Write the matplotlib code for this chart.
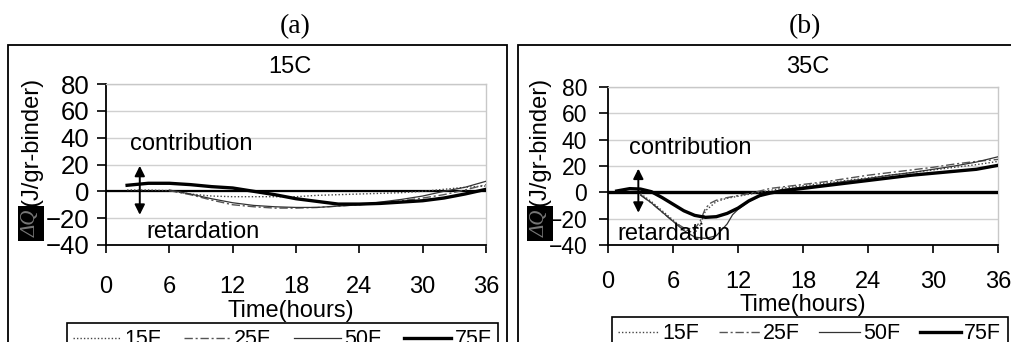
import matplotlib
matplotlib.use('Agg')
import matplotlib.pyplot as plt
from matplotlib.patches import Rectangle

plt.rcParams['font.family'] = ['Liberation Sans', 'DejaVu Sans']

# ---------------- data ----------------
series_names = ['15F', '25F', '50F', '75F']
xticks = [0, 6, 12, 18, 24, 30, 36]
yticks = [-40, -20, 0, 20, 40, 60, 80]

# (a) 15C
a_15F_t = [2, 4, 6, 8, 10, 12, 14, 16, 18, 20, 22, 24, 26, 28, 30, 32, 34, 36]
a_15F_v = [1, 1, 0.5, -2, -3.5, -4, -4, -4, -4, -3, -2.5, -2, -1.5, -1, 0, 1.5, 3, 4]
a_25F_t = [6, 8, 10, 12, 14, 16, 18, 20, 22, 24, 26, 28, 30, 32, 34, 36]
a_25F_v = [0.5, -2.5, -6.5, -10, -11.5, -12.5, -12.5, -12, -11, -10, -9, -7, -5, -2.5, 1, 5]
a_50F_t = [6, 8, 10, 12, 14, 16, 18, 20, 22, 24, 26, 28, 30, 32, 34, 36]
a_50F_v = [1, -2, -5.5, -8.5, -10.5, -11.5, -12, -12, -11, -10, -8, -6, -3.5, 0, 3, 7.5]
a_75F_t = [2, 4, 6, 8, 10, 12, 14, 16, 18, 20, 22, 24, 26, 28, 30, 32, 34, 36]
a_75F_v = [4.5, 6, 6, 5, 3.5, 2.5, 0, -2.5, -5.5, -7.5, -9.5, -9.5, -9, -8, -7, -5, -2, 1.5]

# (b) 35C
b_15F_t = [3, 4, 5, 6, 7, 8, 8.5, 9, 10, 11, 12, 13, 14, 15, 16, 18, 20, 22, 24, 26, 28, 30, 32, 34, 36]
b_15F_v = [-1, -7, -14, -21, -28, -31, -25, -14, -7, -4.5, -3, -1.5, 0, 1.5, 3, 5, 7, 9, 11, 13, 15, 17, 19, 21, 23.5]
b_25F_t = [3, 4, 5, 6, 7, 8, 8.5, 9, 9.5, 10, 11, 12, 13, 14, 15, 16, 18, 20, 22, 24, 26, 28, 30, 32, 34, 36]
b_25F_v = [-2, -8, -15, -22, -27, -28, -22, -12, -8, -6, -4, -2.5, -1, 1, 3, 4, 6, 8, 10.5, 13, 15, 17, 19, 21.5, 23.5, 25]
b_50F_t = [3, 4, 5, 6, 7, 8, 9, 10, 11, 11.5, 12, 13, 14, 15, 16, 18, 20, 22, 24, 26, 28, 30, 32, 34, 36]
b_50F_v = [-2, -8, -15, -22, -29, -34, -35, -33, -24, -17, -13, -7, -3, 0, 2, 4, 6, 8.5, 10.5, 13, 15, 17.5, 20, 23, 27]
b_75F_t = [0.8, 2, 3, 4, 5, 6, 7, 8, 9, 10, 11, 12, 13, 14, 15, 16, 18, 20, 22, 24, 26, 28, 30, 32, 34, 36]
b_75F_v = [1, 2.8, 2.5, 0.5, -4, -9, -14, -17.5, -19, -18.5, -16, -12, -6.5, -2.5, -0.5, 1, 3, 5, 7, 9, 11, 13, 14.5, 16, 17.5, 20.5]

panel_a = {'15F': (a_15F_t, a_15F_v), '25F': (a_25F_t, a_25F_v),
           '50F': (a_50F_t, a_50F_v), '75F': (a_75F_t, a_75F_v)}
panel_b = {'15F': (b_15F_t, b_15F_v), '25F': (b_25F_t, b_25F_v),
           '50F': (b_50F_t, b_50F_v), '75F': (b_75F_t, b_75F_v)}

styles = {
    '15F': dict(ls=(0, (1, 1.5)), lw=1.0, color='#444444'),
    '25F': dict(ls=(0, (6, 2, 1.5, 2)), lw=1.0, color='#555555'),
    '50F': dict(ls='-', lw=0.9, color='#333333'),
    '75F': dict(ls='-', lw=2.4, color='black'),
}

W, H = 1011, 342
fig = plt.figure(figsize=(W / 100, H / 100), dpi=100)


def fx(px):
    return px / W


def fy(py):
    return 1 - py / H


ax_a = fig.add_axes([fx(106), fy(245), fx(486) - fx(106), fy(84) - fy(245)])
ax_b = fig.add_axes([fx(608), fy(245), fx(998) - fx(608), fy(87) - fy(245)])


def setup(ax, data, zlw, xpad, ypad, ysize):
    ax.set_xlim(0, 36)
    ax.set_ylim(-40, 80)
    ax.set_xticks(xticks)
    ax.set_yticks(yticks)
    ax.tick_params(axis='x', direction='out', length=6, width=1.2, pad=xpad, labelsize=17)
    ax.tick_params(axis='y', direction='out', length=6.5, width=1.2, pad=ypad, labelsize=ysize)
    ax.grid(axis='y', color='#d0d0d0', lw=1.0)
    ax.set_axisbelow(True)
    for s in ['left', 'bottom']:
        ax.spines[s].set_color('black')
        ax.spines[s].set_linewidth(1.3)
    for s in ['top', 'right']:
        ax.spines[s].set_color('#c8c8c8')
        ax.spines[s].set_linewidth(1.0)
    ax.axhline(0, color='black', lw=zlw, zorder=3)
    handles = []
    for name in series_names:
        t, v = data[name]
        ln, = ax.plot(t, v, label=name, zorder=4, **styles[name])
        handles.append(ln)
    return handles


ha = setup(ax_a, panel_a, 1.6, 16, 5.5, 18.5)
hb = setup(ax_b, panel_b, 2.4, 13, 8.5, 16.5)

# arrows + texts
for ax, xa, top, bot, cpos, rpos in [
        (ax_a, 3.2, 19, -17.5, (2.3, 35), (3.85, -30)),
        (ax_b, 2.8, 18, -15.5, (1.9, 34), (0.9, -32))]:
    ax.annotate('', xy=(xa, bot), xytext=(xa, top),
                arrowprops=dict(arrowstyle='<|-|>', color='black', lw=1.4,
                                mutation_scale=15, shrinkA=0, shrinkB=0), zorder=6)
    ax.text(cpos[0], cpos[1], 'contribution', fontsize=17, ha='left', va='center', zorder=6)
    ax.text(rpos[0], rpos[1], 'retardation', fontsize=17, ha='left', va='center', zorder=6)

# titles
fig.text(fx(295), fy(27), '(a)', family='Liberation Serif', fontsize=20, ha='center', va='center')
fig.text(fx(805), fy(27), '(b)', family='Liberation Serif', fontsize=20, ha='center', va='center')
fig.text(fx(290), fy(67), '15C', fontsize=17, ha='center', va='center')
fig.text(fx(808), fy(67), '35C', fontsize=17, ha='center', va='center')
fig.text(fx(291), fy(311), 'Time(hours)', fontsize=17, ha='center', va='center')
fig.text(fx(803), fy(305), 'Time(hours)', fontsize=17, ha='center', va='center')

# y labels
for xl in (31, 540):
    fig.text(fx(xl), fy(206), '(J/gr-binder)', rotation=90, ha='center', va='bottom', fontsize=17)
    fig.text(fx(xl), fy(210), 'ΔQ', rotation=90, ha='center', va='top', fontsize=15,
             family='Liberation Serif', style='italic', color='#777777',
             bbox=dict(fc='black', ec='none', pad=2.5))

# panel boxes
fig.add_artist(Rectangle((fx(8), -0.1), fx(507) - fx(8), fy(45) + 0.1,
                         transform=fig.transFigure, fill=False, lw=1.3, ec='black'))
fig.add_artist(Rectangle((fx(518), -0.1), fx(1020) - fx(518), fy(45) + 0.1,
                         transform=fig.transFigure, fill=False, lw=1.3, ec='black'))

# legends
for ax, hs, x0, ytop, hl, cs in [(ax_a, ha, 67, 323, 2.2, 1.05),
                                  (ax_b, hb, 612, 317, 1.9, 0.9)]:
    leg = ax.legend(hs, series_names, loc='upper left',
                    bbox_to_anchor=(fx(x0), fy(ytop)),
                    bbox_transform=fig.transFigure, ncol=4,
                    borderaxespad=0, fancybox=False, edgecolor='black', framealpha=1,
                    fontsize=15.5, handlelength=hl, handletextpad=0.15,
                    columnspacing=cs, borderpad=0.3)
    leg.get_frame().set_linewidth(1.2)

fig.savefig('out.png', dpi=100)
